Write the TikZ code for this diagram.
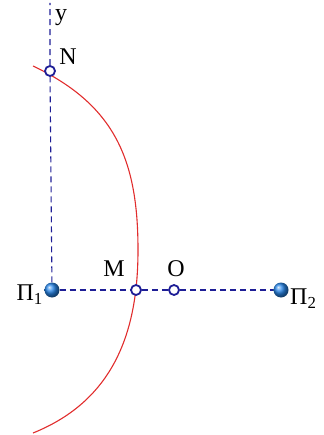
\documentclass[tikz,border=0pt]{standalone}
\usepackage{fontspec}
\setmainfont{Liberation Serif}
\usetikzlibrary{backgrounds}
\definecolor{axisnavy}{RGB}{30,30,150}
\definecolor{curvered}{RGB}{225,45,45}
\definecolor{chargeblue}{RGB}{40,135,235}
\tikzset{
  axisline/.style={
    dash pattern=on 6pt off 4pt,
    draw=axisnavy,
    line width=1.1pt
  },
  pointmark/.style={
    circle,
    draw=axisnavy,
    fill=white,
    line width=1.8pt,
    inner sep=0pt,
    minimum size=10pt
  },
  charge/.style={
    circle,
    shading=ball,
    ball color=chargeblue,
    inner sep=0pt,
    minimum size=15pt
  },
  lbl/.style={
    font=\fontsize{24}{28}\selectfont,
    inner sep=0pt
  },
  arcline/.style={
    draw=curvered,
    line width=1.1pt
  }
}

\begin{document}
\begin{tikzpicture}[x=1pt,y=-1pt]
\useasboundingbox (0,0) rectangle (323,435);
\coordinate (ytop) at (50,3);
\coordinate (arcstart) at (33,66);
\coordinate (arcmid) at (138,250);
\coordinate (arcend) at (33,433);
\node[charge] (pi1) at (52,290) {};
\node[charge] (pi2) at (281,290) {};
\node[pointmark] (n) at (50,71) {};
\node[pointmark] (m) at (136,290) {};
\node[pointmark] (o) at (174,290) {};
\node[lbl] (ylbl) at (61,18) {y};
\node[lbl] (nlbl) at (68,57) {N};
\node[lbl] (mlbl) at (114,269) {M};
\node[lbl] (olbl) at (176,269) {O};
\node[lbl, anchor=east] (pi1lbl) at (43,295) {Π\textsubscript{1}};
\node[lbl, anchor=west] (pi2lbl) at (290,299) {Π\textsubscript{2}};
\begin{scope}[on background layer]
\draw[axisline] (pi1) -- (n) -- (ytop);
\draw[axisline] (pi1) -- (m) -- (o) -- (pi2);
\draw[arcline] (arcstart) .. controls (115,105) and (138,160) .. (arcmid)
  .. controls (138,330) and (115,400) .. (arcend);
\end{scope}
\end{tikzpicture}
\end{document}
